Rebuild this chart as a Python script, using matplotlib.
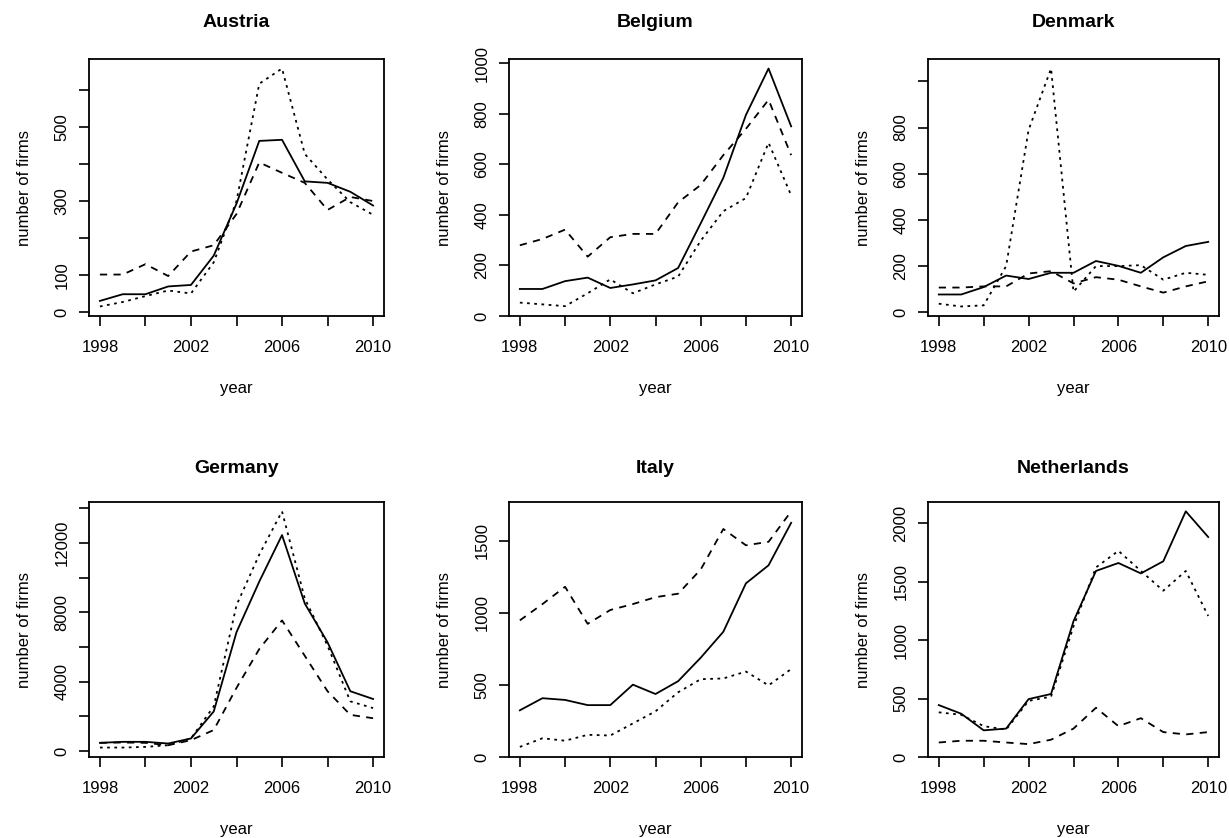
import matplotlib
matplotlib.use("Agg")
import matplotlib.pyplot as plt

plt.rcParams['font.family'] = ['Liberation Sans', 'DejaVu Sans']

years = list(range(1998, 2011))

austria_solid  = [31, 49, 49, 70, 74, 153, 293, 462, 465, 353, 349, 325, 288]
austria_dashed = [102, 102, 130, 98, 164, 181, 265, 404, 376, 349, 276, 311, 300]
austria_dotted = [16, 28, 44, 59, 51, 135, 300, 616, 657, 427, 358, 297, 263]

belgium_solid  = [107, 107, 138, 152, 111, 125, 141, 190, 367, 547, 796, 980, 751]
belgium_dashed = [280, 305, 342, 235, 312, 325, 325, 450, 519, 637, 741, 856, 637]
belgium_dotted = [53, 46, 39, 90, 145, 90, 125, 156, 298, 415, 467, 686, 478]

denmark_solid  = [77, 77, 109, 159, 144, 171, 171, 222, 201, 171, 238, 287, 305]
denmark_dashed = [107, 107, 112, 112, 168, 178, 125, 152, 141, 112, 85, 112, 134]
denmark_dotted = [37, 25, 30, 200, 790, 1056, 89, 200, 200, 204, 141, 171, 162]

germany_solid  = [467, 525, 525, 428, 720, 2276, 6848, 9766, 12451, 8502, 6265, 3444, 2996]
germany_dashed = [467, 486, 467, 330, 622, 1206, 3638, 5875, 7529, 5486, 3443, 2082, 1887]
germany_dotted = [195, 195, 233, 330, 720, 2568, 8405, 11323, 13813, 8794, 6070, 2860, 2471]

italy_solid  = [324, 408, 396, 360, 360, 502, 437, 526, 689, 869, 1205, 1330, 1625]
italy_dashed = [948, 1061, 1181, 924, 1020, 1061, 1109, 1133, 1301, 1582, 1469, 1493, 1704]
italy_dotted = [70, 130, 113, 154, 149, 233, 317, 449, 540, 545, 593, 497, 610]

netherlands_solid  = [444, 370, 228, 243, 495, 539, 1161, 1591, 1659, 1570, 1674, 2101, 1881]
netherlands_dashed = [124, 139, 139, 124, 110, 148, 243, 421, 264, 332, 213, 193, 213]
netherlands_dotted = [382, 361, 264, 234, 480, 516, 1117, 1621, 1763, 1591, 1422, 1591, 1206]

x_ticks = [1998, 2000, 2002, 2004, 2006, 2008, 2010]
x_labels = ["1998", "", "2002", "", "2006", "", "2010"]

panels = [
    ("Austria", austria_solid, austria_dashed, austria_dotted,
     [0, 100, 200, 300, 400, 500, 600], ["0", "100", "", "300", "", "500", ""]),
    ("Belgium", belgium_solid, belgium_dashed, belgium_dotted,
     [0, 200, 400, 600, 800, 1000], ["0", "200", "400", "600", "800", "1000"]),
    ("Denmark", denmark_solid, denmark_dashed, denmark_dotted,
     [0, 200, 400, 600, 800, 1000], ["0", "200", "400", "600", "800", ""]),
    ("Germany", germany_solid, germany_dashed, germany_dotted,
     [0, 2000, 4000, 6000, 8000, 10000, 12000, 14000], ["0", "", "4000", "", "8000", "", "12000", ""]),
    ("Italy", italy_solid, italy_dashed, italy_dotted,
     [0, 500, 1000, 1500], ["0", "500", "1000", "1500"]),
    ("Netherlands", netherlands_solid, netherlands_dashed, netherlands_dotted,
     [0, 500, 1000, 1500, 2000], ["0", "500", "1000", "1500", "2000"]),
]

W, H = 1229, 838
fig = plt.figure(figsize=(W / 100, H / 100), dpi=100)

col_x = [(89, 384), (509, 802), (928, 1219)]
row_y = [(59, 316), (502, 757)]
title_pad = [23, 21]

for i, (name, s, d, o, yt, yl) in enumerate(panels):
    r, c = divmod(i, 3)
    x0, x1 = col_x[c]
    y0, y1 = row_y[r]
    ax = fig.add_axes([x0 / W, 1 - y1 / H, (x1 - x0) / W, (y1 - y0) / H])
    ax.plot(years, s, color='black', lw=1.3, linestyle='-')
    ax.plot(years, d, color='black', lw=1.3, linestyle=(0, (4, 3.5)))
    ax.plot(years, o, color='black', lw=1.3, linestyle=(0, (1.5, 2.5)))
    ax.margins(x=0.04, y=0.04)
    ax.set_xticks(x_ticks)
    ax.set_xticklabels(x_labels, fontsize=12)
    ax.set_yticks(yt)
    ax.set_yticklabels(yl, fontsize=12, rotation=90, va='center')
    ax.tick_params(axis='x', length=7, width=1.2, color='black', pad=10)
    ax.tick_params(axis='y', length=7, width=1.2, color='black', pad=7)
    for sp in ax.spines.values():
        sp.set_linewidth(1.3)
    ax.set_title(name, fontsize=14, fontweight='bold', pad=title_pad[r])
    ax.set_xlabel("year", fontsize=12, labelpad=19)
    ax.set_ylabel("number of firms", fontsize=12, labelpad=16)

fig.savefig("out.png", dpi=100)
